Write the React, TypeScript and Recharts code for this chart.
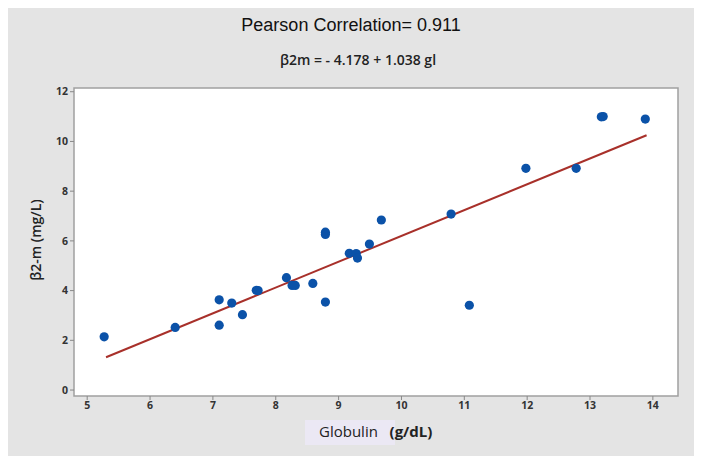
import React from "react";
import {
  ScatterChart,
  Scatter,
  XAxis,
  YAxis,
  ReferenceArea,
} from "recharts";

// Globulin (g/dL) vs β2-m (mg/L)
const globulin = [
  5.27, 6.4, 7.1, 7.1, 7.3, 7.47, 7.69, 7.72, 8.17, 8.26, 8.31, 8.59, 8.79,
  8.79, 8.79, 9.17, 9.28, 9.3, 9.49, 9.68, 10.79, 11.08, 11.98, 12.78, 13.18,
  13.21, 13.88,
];
const b2m = [
  2.14, 2.52, 3.63, 2.61, 3.5, 3.03, 4.01, 4.0, 4.52, 4.21, 4.21, 4.29, 3.54,
  6.35, 6.26, 5.5, 5.49, 5.31, 5.87, 6.84, 7.08, 3.41, 8.92, 8.92, 10.99, 11.0,
  10.9,
];

// fitted line end points (β2m = -4.178 + 1.038 gl)
const fitX = [5.3, 13.9];
const fitY = [1.32, 10.25];

const xTicks = [5, 6, 7, 8, 9, 10, 11, 12, 13, 14];
const yTicks = [0, 2, 4, 6, 8, 10, 12];
const xDomain: [number, number] = [4.79, 14.4];
const yDomain: [number, number] = [-0.24, 12.15];

const points = globulin.map((x, i) => ({ x, y: b2m[i] }));
const fitLine = fitX.map((x, i) => ({ x, y: fitY[i] }));

const DOT = "#0b52a8";
const FIT = "#a8302a";
const tickStyle = {
  fontSize: 10.5,
  fill: "#333",
  fontWeight: 700,
  fontFamily: "'Open Sans', sans-serif",
};

const Dot = (props: any) => (
  <circle cx={props.cx} cy={props.cy} r={4.6} fill={DOT} />
);

export default function App() {
  return (
    <div
      style={{
        position: "relative",
        width: 694,
        height: 448,
        background: "#e4e4e4",
        fontFamily: "'Liberation Sans', Arial, sans-serif",
      }}
    >
      <div
        style={{
          position: "absolute",
          top: 7,
          left: 0,
          width: 686,
          textAlign: "center",
          fontSize: 18,
          color: "#111",
        }}
      >
        Pearson Correlation= 0.911
      </div>
      <div
        style={{
          position: "absolute",
          top: 42,
          left: 0,
          width: 700,
          textAlign: "center",
          fontSize: 14,
          fontWeight: 600,
          fontFamily: "'Open Sans', sans-serif",
          color: "#222",
        }}
      >
        β2m = - 4.178 + 1.038 gl
      </div>

      <ScatterChart
        width={694}
        height={448}
        margin={{ top: 80, right: 24, bottom: 40, left: 36 }}
      >
        <XAxis
          type="number"
          dataKey="x"
          domain={xDomain}
          ticks={xTicks}
          allowDataOverflow
          height={20}
          axisLine={false}
          tickLine={{ stroke: "#888" }}
          tickSize={4}
          tick={tickStyle}
        />
        <YAxis
          type="number"
          dataKey="y"
          domain={yDomain}
          ticks={yTicks}
          allowDataOverflow
          width={30}
          axisLine={false}
          tickLine={{ stroke: "#888" }}
          tickSize={4}
          tick={tickStyle}
        />
        <ReferenceArea
          x1={xDomain[0]}
          x2={xDomain[1]}
          y1={yDomain[0]}
          y2={yDomain[1]}
          fill="#fff"
          fillOpacity={1}
          stroke="#a0a0a0"
          strokeWidth={1.5}
        />
        <Scatter
          data={fitLine}
          line={{ stroke: FIT, strokeWidth: 2 }}
          shape={() => <g />}
          isAnimationActive={false}
        />
        <Scatter data={points} shape={Dot} isAnimationActive={false} />
      </ScatterChart>

      <div
        style={{
          position: "absolute",
          left: 27,
          top: 232,
          transform: "translate(-50%, -50%) rotate(-90deg)",
          whiteSpace: "nowrap",
          fontSize: 14,
          fontWeight: 600,
          fontFamily: "'Open Sans', sans-serif",
          color: "#222",
        }}
      >
        β2-m (mg/L)
      </div>

      <div
        style={{
          position: "absolute",
          left: 297,
          top: 412,
          height: 25,
          width: 90,
          background: "#ebe8f4",
        }}
      />
      <div
        style={{
          position: "absolute",
          left: 311,
          top: 413,
          whiteSpace: "nowrap",
          fontSize: 15,
          fontFamily: "'Open Sans', sans-serif",
          color: "#222",
        }}
      >
        Globulin&nbsp;&nbsp;&nbsp;<b>(g/dL)</b>
      </div>
    </div>
  );
}
